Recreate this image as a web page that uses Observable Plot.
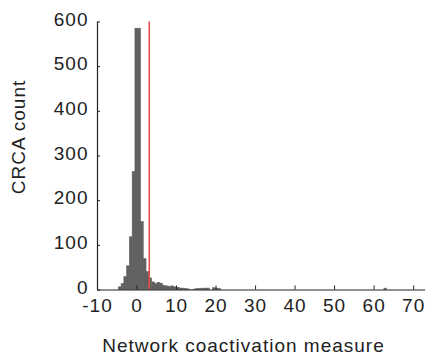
<!DOCTYPE html>
<html><head><meta charset="utf-8">
<script src="https://cdn.jsdelivr.net/npm/d3@7"></script>
<script src="https://cdn.jsdelivr.net/npm/@observablehq/plot@0.6"></script>
<style>body{margin:0;background:#fff}</style>
</head><body><div id="chart"></div>
<script>
const binStart = [-4.6,-3.9,-3.2,-2.5,-1.8,-1.1,-0.4,0.3,1.0,1.7,2.4,3.1,3.8,4.5,5.2,5.9,6.6,7.3,8.0,8.7,9.4,10.1,10.8,11.5,12.2,12.9,13.6,14.3,15.0,15.7,16.4,17.1,17.8,18.5,19.2,19.9,20.6,62.6];
const binCount = [6,13,29,53,118,264,585,585,152,69,40,26,17,13,16,14,9,8,7,8,6,5,3,3,2,1,0,1,2,2,3,3,3,0,4,3,2,3];
const binWidth = 0.7;
const thresholdValue = [3.1];
const xTicks = [-10,0,10,20,30,40,50,60,70];
const yTicks = [0,100,200,300,400,500,600];
const xLabel = "Network coactivation measure";
const yLabel = "CRCA count";

const bins = binStart.map((s,i)=>({x1:s, x2:s+binWidth, count:binCount[i]}));
const W = 432, H = 355, mL = 97, mR = 7, mT = 21.5, mB = 65.5;
const fw = W - mL - mR, fh = H - mT - mB;

const chart = Plot.plot({
  width: W, height: H,
  marginLeft: mL, marginRight: mR, marginTop: mT, marginBottom: mB,
  style: {fontFamily: "'Liberation Sans', Arial, sans-serif", fontSize: "19px", color: "#222", letterSpacing: "1px", background: "#fff"},
  x: {domain: [-10, 73]},
  y: {domain: [0, 600]},
  marks: [
    Plot.rectY(bins, {x1: "x1", x2: "x2", y: "count", fill: "#606060", stroke: "#606060", strokeWidth: 0.6, inset: 0}),
    Plot.ruleX(thresholdValue, {stroke: "#f04848", strokeWidth: 1.5}),
    Plot.ruleY([0], {stroke: "#222", strokeWidth: 1.2}),
    Plot.ruleX([-10], {stroke: "#222", strokeWidth: 1.2}),
    Plot.tickX(xTicks, {x: d => d, insetTop: fh - 4, stroke: "#222"}),
    Plot.tickY(yTicks, {y: d => d, insetRight: fw - 3, stroke: "#222"}),
    Plot.axisX(xTicks, {tickSize: 0, tickPadding: 8, label: null, fontSize: 19, tickFormat: d => String(d)}),
    Plot.axisY(yTicks, {tickSize: 0, tickPadding: 9, label: null, fontSize: 19, dy: -2.5, tickFormat: d => String(d)}),
    Plot.text([xLabel], {frameAnchor: "bottom", textAnchor: "middle", lineAnchor: "bottom", dy: 62, dx: -18, fontSize: 19, fill: "#222"}),
    Plot.text([yLabel], {frameAnchor: "left", textAnchor: "middle", lineAnchor: "middle", rotate: -90, dx: -79, dy: -19, fontSize: 19, fill: "#222"})
  ]
});
document.getElementById("chart").appendChild(chart);
</script>
</body></html>
